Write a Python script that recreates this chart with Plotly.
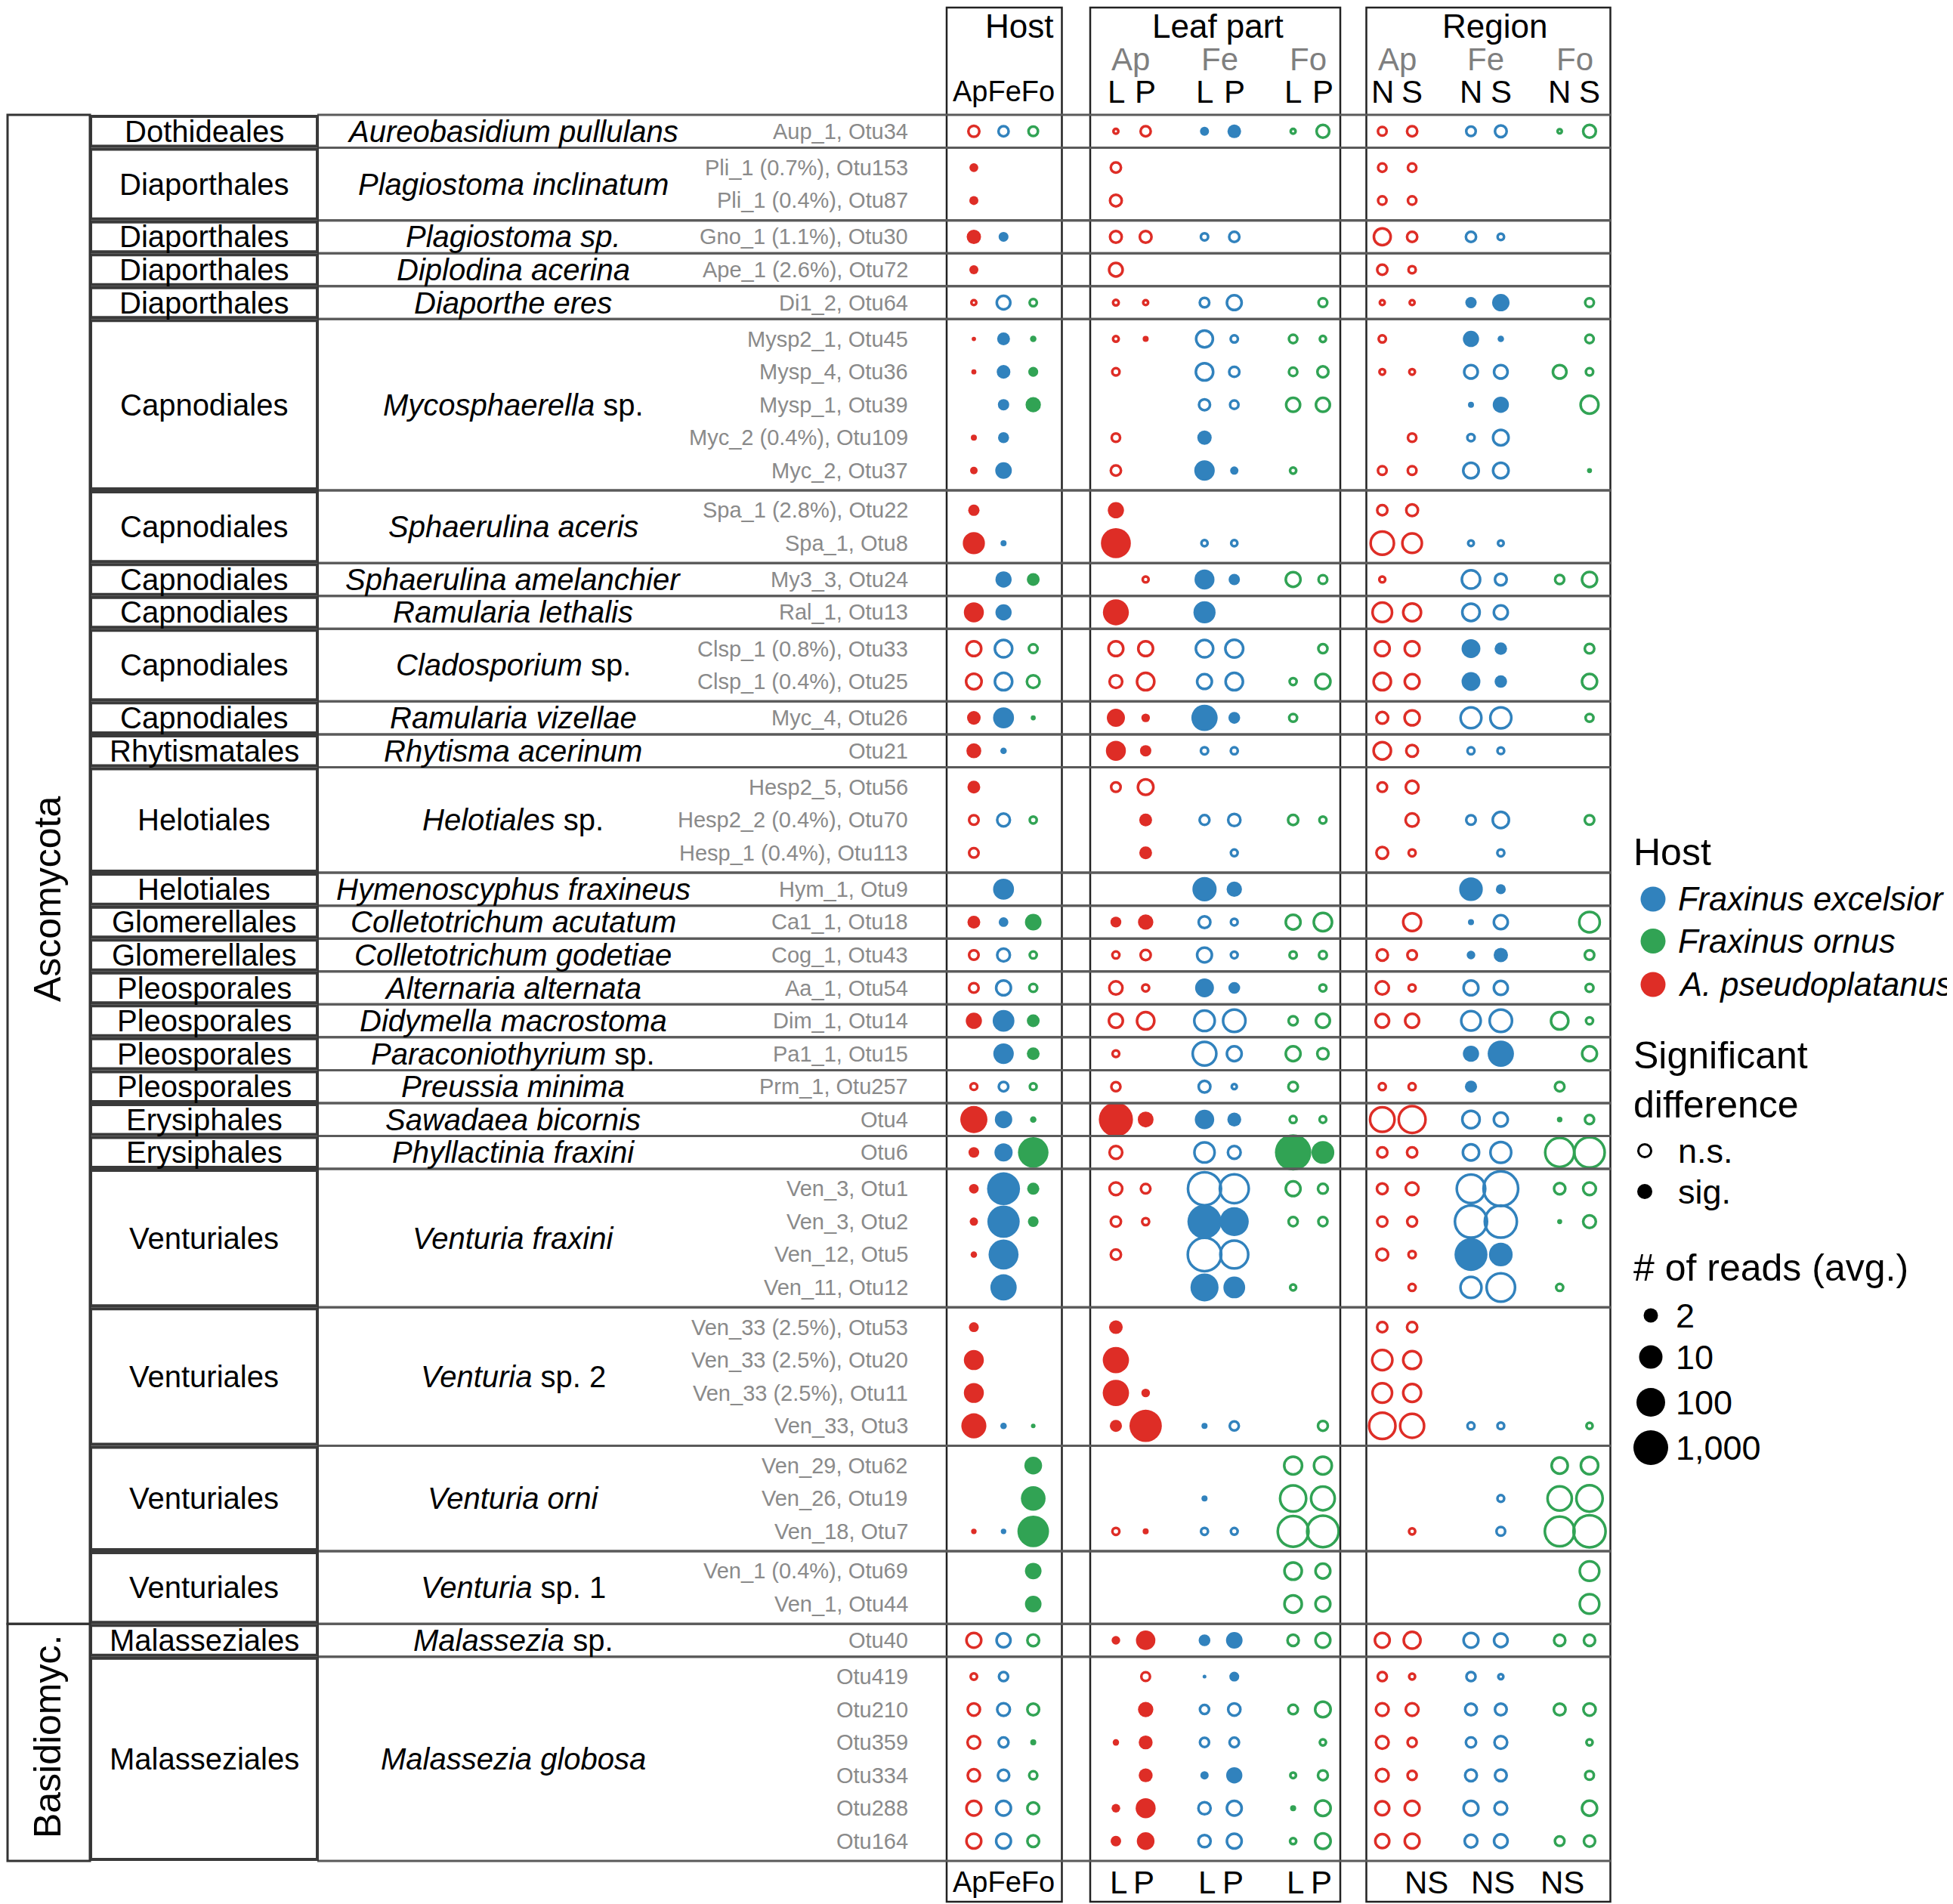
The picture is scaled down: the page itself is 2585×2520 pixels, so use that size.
import numpy as np
import plotly.graph_objects as go

# ---------------------------------------------------------------- data
PHYLA = ["Ascomycota", "Basidiomyc."]
PHYLUM_NGROUPS = [26, 2]

ORDERS = ["Dothideales", "Diaporthales", "Diaporthales", "Diaporthales", "Diaporthales",
          "Capnodiales", "Capnodiales", "Capnodiales", "Capnodiales", "Capnodiales", "Capnodiales",
          "Rhytismatales", "Helotiales", "Helotiales", "Glomerellales", "Glomerellales",
          "Pleosporales", "Pleosporales", "Pleosporales", "Pleosporales",
          "Erysiphales", "Erysiphales",
          "Venturiales", "Venturiales", "Venturiales", "Venturiales",
          "Malasseziales", "Malasseziales"]

SPECIES = ["<i>Aureobasidium pullulans</i>", "<i>Plagiostoma inclinatum</i>", "<i>Plagiostoma sp.</i>",
           "<i>Diplodina acerina</i>", "<i>Diaporthe eres</i>", "<i>Mycosphaerella</i> sp.",
           "<i>Sphaerulina aceris</i>", "<i>Sphaerulina amelanchier</i>", "<i>Ramularia lethalis</i>",
           "<i>Cladosporium</i> sp.", "<i>Ramularia vizellae</i>", "<i>Rhytisma acerinum</i>",
           "<i>Helotiales</i> sp.", "<i>Hymenoscyphus fraxineus</i>", "<i>Colletotrichum acutatum</i>",
           "<i>Colletotrichum godetiae</i>", "<i>Alternaria alternata</i>", "<i>Didymella macrostoma</i>",
           "<i>Paraconiothyrium</i> sp.", "<i>Preussia minima</i>", "<i>Sawadaea bicornis</i>",
           "<i>Phyllactinia fraxini</i>", "<i>Venturia fraxini</i>", "<i>Venturia</i> sp. 2",
           "<i>Venturia orni</i>", "<i>Venturia</i> sp. 1", "<i>Malassezia</i> sp.",
           "<i>Malassezia globosa</i>"]

OTU_LABELS = [
    ["Aup_1, Otu34"],
    ["Pli_1 (0.7%), Otu153", "Pli_1 (0.4%), Otu87"],
    ["Gno_1 (1.1%), Otu30"],
    ["Ape_1 (2.6%), Otu72"],
    ["Di1_2, Otu64"],
    ["Mysp2_1, Otu45", "Mysp_4, Otu36", "Mysp_1, Otu39", "Myc_2 (0.4%), Otu109", "Myc_2, Otu37"],
    ["Spa_1 (2.8%), Otu22", "Spa_1, Otu8"],
    ["My3_3, Otu24"],
    ["Ral_1, Otu13"],
    ["Clsp_1 (0.8%), Otu33", "Clsp_1 (0.4%), Otu25"],
    ["Myc_4, Otu26"],
    ["Otu21"],
    ["Hesp2_5, Otu56", "Hesp2_2 (0.4%), Otu70", "Hesp_1 (0.4%), Otu113"],
    ["Hym_1, Otu9"],
    ["Ca1_1, Otu18"],
    ["Cog_1, Otu43"],
    ["Aa_1, Otu54"],
    ["Dim_1, Otu14"],
    ["Pa1_1, Otu15"],
    ["Prm_1, Otu257"],
    ["Otu4"],
    ["Otu6"],
    ["Ven_3, Otu1", "Ven_3, Otu2", "Ven_12, Otu5", "Ven_11, Otu12"],
    ["Ven_33 (2.5%), Otu53", "Ven_33 (2.5%), Otu20", "Ven_33 (2.5%), Otu11", "Ven_33, Otu3"],
    ["Ven_29, Otu62", "Ven_26, Otu19", "Ven_18, Otu7"],
    ["Ven_1 (0.4%), Otu69", "Ven_1, Otu44"],
    ["Otu40"],
    ["Otu419", "Otu210", "Otu359", "Otu334", "Otu288", "Otu164"],
]

# columns: Host Ap Fe Fo | Leaf part ApL ApP FeL FeP FoL FoP | Region ApN ApS FeN FeS FoN FoS
COLUMN_HOSTS = ["Ap", "Fe", "Fo", "Ap", "Ap", "Fe", "Fe", "Fo", "Fo", "Ap", "Ap", "Fe", "Fe", "Fo", "Fo"]

# average number of reads per cell (0 = not present)
READS = [
    [1.7, 1.4, 1.2, 0.2, 1.4, 0.45, 1.7, 0.2, 2.4, 1, 1.4, 1.2, 2, 0.15, 2.4],
    [0.4, 0, 0, 1.4, 0, 0, 0, 0, 0, 0.9, 0.9, 0, 0, 0, 0],
    [0.45, 0, 0, 2, 0, 0, 0, 0, 0, 0.9, 0.9, 0, 0, 0, 0],
    [2, 0.6, 0, 2, 2, 0.6, 1.4, 0, 0, 5, 1.4, 1.4, 0.45, 0, 0],
    [0.45, 0, 0, 2.8, 0, 0, 0, 0, 0, 1.4, 0.6, 0, 0, 0, 0],
    [0.2, 2.8, 0.6, 0.3, 0.2, 1.2, 3.5, 0, 1, 0.2, 0.2, 1, 3.5, 0, 1],
    [0.03, 1.4, 0.12, 0.3, 0.1, 5, 0.6, 0.9, 0.4, 0.6, 0, 2.8, 0.12, 0, 0.9],
    [0.05, 1.7, 0.6, 0.6, 0, 5.5, 1.4, 0.9, 1.7, 0.3, 0.3, 2.8, 2.8, 2.8, 0.6],
    [0, 1, 2.4, 0, 0, 1.7, 0.9, 3, 3, 0, 0, 0.1, 2.8, 0, 6],
    [0.1, 0.9, 0, 0.9, 0, 2, 0, 0, 0, 0, 0.9, 0.6, 4, 0, 0],
    [0.2, 3, 0, 1.4, 0, 6, 0.3, 0.4, 0, 1, 1, 4, 4, 0, 0.05],
    [1, 0, 0, 2.8, 0, 0, 0, 0, 0, 1.4, 2, 0, 0, 0, 0],
    [8, 0.1, 0, 160, 0, 0.4, 0.4, 0, 0, 30, 8, 0.3, 0.3, 0, 0],
    [0, 2.8, 1.4, 0, 0.35, 5.5, 1, 3.5, 1, 0.35, 0, 6.5, 2, 1.1, 3.7],
    [5.5, 2.8, 0, 30, 0, 8, 0, 0, 0, 8, 6, 5.5, 3, 0, 0],
    [3.5, 5.5, 1, 3.5, 3.5, 5.5, 6, 0, 1.1, 3.5, 3.5, 4.5, 1.3, 0, 1.2],
    [4, 5.5, 2.4, 2.4, 5.5, 3.5, 5.5, 0.55, 3.7, 5.5, 3.5, 4.5, 1.3, 0, 3.7],
    [1.7, 6.5, 0.05, 4, 0.35, 35, 1.1, 0.75, 0, 2, 3.7, 10, 11, 0, 0.75],
    [2.2, 0.12, 0, 5.5, 1, 0.6, 0.55, 0, 0, 5.5, 2, 0.55, 0.5, 0, 0],
    [1.4, 0, 0, 1.2, 4, 0, 0, 0, 0, 1.2, 2.4, 0, 0, 0, 0],
    [1.2, 2.4, 0.55, 0, 1.4, 1.3, 2.2, 1.4, 0.55, 0, 2.6, 1.2, 4.5, 0, 1.2],
    [1.2, 0, 0, 0, 1.4, 0, 0.5, 0, 0, 2, 0.55, 0, 0.55, 0, 0],
    [0, 6.5, 0, 0, 0, 14, 2.4, 0, 0, 0, 0, 11, 0.6, 0, 0],
    [1.4, 0.55, 3, 0.85, 2.4, 2, 0.5, 3.5, 6.5, 0, 6, 0.1, 3, 0, 9.5],
    [1.2, 2.4, 0.55, 0.55, 1.4, 3.5, 0.5, 0.6, 0.75, 1.8, 1.2, 0.35, 2, 0, 1.2],
    [1.2, 3.5, 0.75, 2.6, 0.55, 4.5, 1.1, 0, 0.55, 2.6, 0.55, 3.5, 3, 0, 0.75],
    [2.8, 7.5, 1.4, 3, 5.5, 9.5, 20, 1.1, 3, 2.8, 3, 8, 20, 5.5, 0.55],
    [0, 6, 1.4, 0.5, 0, 35, 3.5, 3.5, 1.8, 0, 0, 2.8, 35, 0, 3.5],
    [0.5, 1.2, 0.5, 1.1, 0, 2, 0.22, 1.2, 0, 0.55, 0.55, 1.2, 0, 1.2, 0],
    [50, 3.5, 0.12, 800, 2.6, 5, 1.8, 0.55, 0.5, 50, 130, 5.5, 3, 0.07, 1.1],
    [0.8, 4, 200, 2.4, 0, 9, 2.4, 1800, 9, 1.4, 1.4, 4.5, 10, 300, 500],
    [0.55, 500, 1.2, 2.4, 1.2, 1400, 300, 3.5, 1.3, 1.6, 2.4, 250, 2500, 1.8, 2.4],
    [0.3, 400, 0.8, 1.4, 0.55, 800, 110, 1.1, 1.1, 1.4, 1.3, 1000, 1000, 0.05, 2.4],
    [0.12, 160, 0, 1.4, 0, 1600, 200, 0, 0, 2, 0.6, 500, 11, 0, 0],
    [0, 35, 0, 0, 0, 75, 7.5, 0.35, 0, 0, 0.55, 11, 250, 0.55, 0],
    [0.6, 0, 0, 1.7, 0, 0, 0, 0, 0, 1.4, 1.4, 0, 0, 0, 0],
    [5.5, 0, 0, 35, 0, 0, 0, 0, 0, 9, 6, 0, 0, 0, 0],
    [5.5, 0, 0, 35, 0.35, 0, 0, 0, 0, 8, 6, 0, 0, 0, 0],
    [20, 0.12, 0.035, 1.2, 400, 0.1, 1.1, 0, 1.3, 110, 40, 0.55, 0.5, 0, 0.4],
    [0, 0, 3.7, 0, 0, 0, 0, 6, 6, 0, 0, 0, 0, 4.5, 5.5],
    [0, 0, 17, 0, 0, 0.1, 0, 100, 35, 0, 0, 0, 0.5, 45, 110],
    [0.07, 0.07, 300, 0.55, 0.1, 0.55, 0.5, 600, 800, 0, 0.4, 0, 1, 400, 1000],
    [0, 0, 3, 0, 0, 0, 0, 5.5, 3.5, 0, 0, 0, 0, 0, 8],
    [0, 0, 3, 0, 0, 0, 0, 5.5, 3.5, 0, 0, 0, 0, 0, 8],
    [3.5, 3, 2, 0.35, 5, 1.1, 3, 1.8, 3.5, 3.5, 5, 3.5, 2.8, 1.8, 1.8],
    [0.45, 1.1, 0, 0, 1, 0.02, 0.6, 0, 0, 1.1, 0.35, 1.1, 0.22, 0, 0],
    [2.2, 2.4, 2, 0, 2.4, 1.1, 2.2, 1.2, 4, 2.4, 2.4, 2, 2, 2, 2.2],
    [2.4, 1.3, 0.1, 0.12, 1.8, 1.1, 1.2, 0, 0.4, 2.4, 1.1, 1.4, 2.4, 0, 0.4],
    [2.2, 1.8, 0.8, 0, 1.8, 0.3, 2.8, 0.3, 1.3, 2.4, 1.1, 2, 2, 0, 1],
    [3.5, 3.5, 2, 0.35, 5.5, 2.2, 3.5, 0.1, 4, 3, 3.5, 3.5, 2.4, 0, 3.7],
    [3.5, 3.5, 2, 0.75, 3.7, 2.2, 3.5, 0.4, 4, 3, 3.5, 2.4, 2.8, 1.2, 1.8],
]

# significance: 1 = sig. (filled), 0 = n.s. (open), . = absent
SIG = [
    "000 001100 000000", "1.. 0..... 00....", "1.. 0..... 00....", "11. 0000.. 0000..",
    "1.. 0..... 00....", "000 0000.0 0011.0", "111 010000 0.11.0", "111 0.0000 000000",
    ".11 ..0000 ..11.0", "11. 0.1... .000..", "11. 0.110. 0000.1", "1.. 1..... 00....",
    "11. 1.00.. 0000..", ".11 .01100 0.0000", "11. 1.1... 0000..", "000 0000.0 0011.0",
    "000 000000 0011.0", "111 11110. 0000.0", "11. 1100.. 0000..", "1.. 00.... 00....",
    "000 .10000 .000.0", "0.. .1.0.. 00.0..", ".1. ..11.. ..11..", "111 110000 .010.0",
    "000 000000 0011.0", "000 0011.0 0000.0", "111 000000 000000", ".11 0.0000 ..11.0",
    "000 0.000. 001.0.", "111 111100 000010", "111 0.0011 000000", "111 000000 000000",
    "111 001100 000010", "11. 0.00.. 0011..", ".1. ..110. .0000.", "1.. 1..... 00....",
    "1.. 1..... 00....", "1.. 11.... 00....", "111 1110.0 0000.0", "..1 ....00 ....00",
    "..1 ..1.00 ...000", "111 010000 .0.000", "..1 ....00 .....0", "..1 ....00 .....0",
    "000 111100 000000", "00. .011.. 0000..", "000 .10000 000000", "001 1100.0 0000.0",
    "000 .11100 0000.0", "000 110010 0000.0", "000 110000 000000",
]

HOST_NAMES = ["<i>Fraxinus excelsior</i>", "<i>Fraxinus ornus</i>", "<i>A. pseudoplatanus</i>"]
HOST_KEYS = ["Fe", "Fo", "Ap"]
LEGEND_READS = [2, 10, 100, 1000]
LEGEND_READS_LABELS = ["2", "10", "100", "1,000"]

# ---------------------------------------------------------------- style / layout
W, H = 2585, 2520
OFF = 8  # page body margin: shift the coordinate frame so content lands on page pixels
FONT = "Liberation Sans, Arial, Helvetica, sans-serif"
COLORS = {"Ap": "#de2d26", "Fe": "#3182bd", "Fo": "#31a354"}
GREY_TXT = "#8a8a8a"
LINE_GREY = "#5a5a5a"
OPEN_LW = 3.5

# reads -> marker diameter (px), log scale
REF_READS = [0.02, 0.1, 0.2, 0.45, 1, 2, 4, 10, 100, 1000, 5000]
REF_DIAM = [5, 8, 10, 12, 15, 19, 24, 31, 38, 46, 52]


def diam(r):
    return float(np.interp(np.log10(r), np.log10(REF_READS), REF_DIAM))


COL_X = ([1289.0 + 39.3 * i for i in range(3)]
         + [1477.0 + 117.3 * j + 39.4 * k for j in range(3) for k in range(2)]
         + [1829.6 + 117.4 * j + 39.5 * k for j in range(3) for k in range(2)])

TABLE_TOP = 152.0
ROW_P = 43.55
PAD = 9.0

row_y, group_bounds = [], []
y = TABLE_TOP
for otus in OTU_LABELS:
    n = len(otus)
    pad = PAD if n > 1 else 0.0
    h = n * ROW_P + pad
    for i in range(n):
        row_y.append(y + pad / 2 + (i + 0.5) * ROW_P)
    group_bounds.append((y, y + h))
    y += h
TABLE_BOTTOM = y

fig = go.Figure()

# ---------------------------------------------------------------- dots
fx, fy, fs, fc = [], [], [], []
ox, oy, osz, oc = [], [], [], []
for r, (vals, sig) in enumerate(zip(READS, SIG)):
    s = sig.replace(" ", "")
    for c in range(15):
        v = vals[c]
        if v <= 0 or s[c] == ".":
            continue
        d = diam(v)
        col = COLORS[COLUMN_HOSTS[c]]
        if s[c] == "1":
            fx.append(COL_X[c]); fy.append(row_y[r]); fs.append(d); fc.append(col)
        else:
            ox.append(COL_X[c]); oy.append(row_y[r]); osz.append(max(d - OPEN_LW, 2.0)); oc.append(col)

fig.add_trace(go.Scatter(x=ox, y=oy, mode="markers", hoverinfo="skip", showlegend=False,
                         marker=dict(symbol="circle-open", size=osz, color=oc, opacity=1,
                                     line=dict(width=OPEN_LW, color=oc))))
fig.add_trace(go.Scatter(x=fx, y=fy, mode="markers", hoverinfo="skip", showlegend=False,
                         marker=dict(symbol="circle", size=fs, color=fc, opacity=1,
                                     line=dict(width=0))))

# ---------------------------------------------------------------- lines / boxes
shapes = []
for x0, x1 in [(1253, 1405.5), (1443, 1774), (1808.5, 2131.5)]:
    shapes.append(dict(type="rect", x0=x0, x1=x1, y0=10, y1=2517,
                       line=dict(color="#222222", width=2.5)))
for top, bot in group_bounds:
    for yy in (top, bot):
        shapes.append(dict(type="line", x0=420, x1=2132, y0=yy, y1=yy,
                           line=dict(color=LINE_GREY, width=3)))
for top, bot in group_bounds:
    shapes.append(dict(type="rect", x0=120, x1=420, y0=top + 2, y1=bot - 2,
                       line=dict(color="#3a3a3a", width=4)))
g0 = 0
phy_bounds = []
for n in PHYLUM_NGROUPS:
    top = group_bounds[g0][0]
    bot = group_bounds[g0 + n - 1][1]
    phy_bounds.append((top, bot))
    shapes.append(dict(type="rect", x0=10, x1=119, y0=top, y1=bot,
                       line=dict(color="#333333", width=3)))
    g0 += n

annotations = []


def ann(text, x, y, size, color="black", xanchor="center", angle=0):
    annotations.append(dict(text=text, x=x, y=y, xref="x", yref="y", showarrow=False,
                            xanchor=xanchor, yanchor="middle", textangle=angle, borderpad=0,
                            font=dict(family=FONT, size=size, color=color)))


ann(PHYLA[0], 63, 1190, 50, angle=-90)
ann(PHYLA[1], 63, (phy_bounds[1][0] + phy_bounds[1][1]) / 2 - 8, 50, angle=-90)

r = 0
for g, otus in enumerate(OTU_LABELS):
    top, bot = group_bounds[g]
    cy = (top + bot) / 2
    ann(ORDERS[g], 270, cy, 40)
    ann(SPECIES[g], 679, cy, 40)
    for lab in otus:
        ann(lab, 1203, row_y[r], 29, color=GREY_TXT, xanchor="right")
        r += 1

# header
ann("Host", 1349, 34, 44)
ann("Leaf part", 1612, 34, 44)
ann("Region", 1978, 34, 44)
for j, hname in enumerate(["Ap", "Fe", "Fo"]):
    ann(hname, (COL_X[3 + 2 * j] + COL_X[4 + 2 * j]) / 2, 78, 42, color="#7f7f7f")
    ann(hname, (COL_X[9 + 2 * j] + COL_X[10 + 2 * j]) / 2, 78, 42, color="#7f7f7f")
    ann("L", COL_X[3 + 2 * j], 121, 42)
    ann("P", COL_X[4 + 2 * j], 121, 42)
    ann("N", COL_X[9 + 2 * j], 121, 42)
    ann("S", COL_X[10 + 2 * j], 121, 42)
ann("ApFeFo", COL_X[1], 121, 38)

# footer
ann("ApFeFo", COL_X[1], 2491, 38)
for j in range(3):
    ann("L", COL_X[3 + 2 * j] + 3, 2491, 42)
    ann("P", COL_X[4 + 2 * j] - 2, 2491, 42)
for cx in (1888, 1975.5, 2067.5):
    ann("NS", cx, 2491, 42)

# ---------------------------------------------------------------- legend
LX = 2161
ann("Host", LX, 1128, 50, xanchor="left")
for i, (name, key) in enumerate(zip(HOST_NAMES, HOST_KEYS)):
    yy = [1190, 1245.5, 1303][i]
    fig.add_trace(go.Scatter(x=[2188], y=[yy], mode="markers", hoverinfo="skip", showlegend=False,
                             marker=dict(size=33, color=COLORS[key], opacity=1, line=dict(width=0))))
    ann(name, 2220, yy, 43.5, xanchor="left")

ann("Significant", LX, 1397, 50, xanchor="left")
ann("difference", LX, 1462, 50, xanchor="left")
fig.add_trace(go.Scatter(x=[2177], y=[1523], mode="markers", hoverinfo="skip", showlegend=False,
                         marker=dict(symbol="circle-open", size=17, color="black", opacity=1,
                                     line=dict(width=3, color="black"))))
fig.add_trace(go.Scatter(x=[2177], y=[1577], mode="markers", hoverinfo="skip", showlegend=False,
                         marker=dict(symbol="circle", size=20, color="black", opacity=1,
                                     line=dict(width=0))))
ann("n.s.", 2220, 1523, 45, xanchor="left")
ann("sig.", 2220, 1577, 45, xanchor="left")

ann("# of reads (avg.)", LX, 1678, 50, xanchor="left")
leg_y = [1741, 1796, 1856, 1916]
fig.add_trace(go.Scatter(x=[2185] * 4, y=leg_y, mode="markers", hoverinfo="skip", showlegend=False,
                         marker=dict(symbol="circle", size=[diam(v) for v in LEGEND_READS],
                                     color="black", opacity=1, line=dict(width=0))))
for lab, yy in zip(LEGEND_READS_LABELS, leg_y):
    ann(lab, 2217, yy, 45, xanchor="left")

fig.update_layout(
    width=W, height=H, margin=dict(l=0, r=0, t=0, b=0, pad=0),
    paper_bgcolor="white", plot_bgcolor="white",
    xaxis=dict(range=[OFF, W + OFF], visible=False, fixedrange=True),
    yaxis=dict(range=[H + OFF, OFF], visible=False, fixedrange=True),
    shapes=shapes, annotations=annotations, showlegend=False,
    font=dict(family=FONT),
)

fig.write_html("out.html", config={"displayModeBar": False})
